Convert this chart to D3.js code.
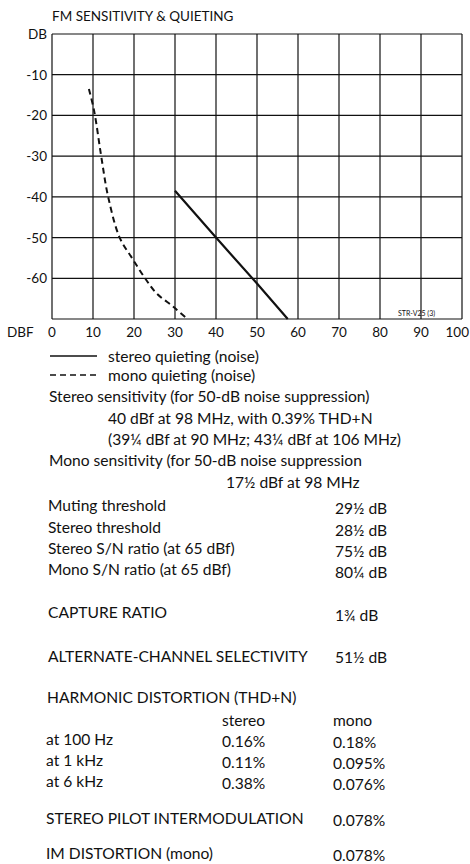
<!DOCTYPE html>
<html>
<head>
<meta charset="utf-8">
<script src="https://cdn.jsdelivr.net/npm/d3@7/dist/d3.min.js"></script>
<style>
  html, body { margin: 0; padding: 0; background: #fff; }
  svg { display: block; }
  text { font-family: Lato, "Open Sans", sans-serif; fill: #111; }
</style>
</head>
<body>
<svg id="chart" width="470" height="864"></svg>
<script>
// ---------- data ----------
const chartTitle = "FM SENSITIVITY & QUIETING";
const xTickValues = [0, 10, 20, 30, 40, 50, 60, 70, 80, 90, 100];
const yTickValues = [0, -10, -20, -30, -40, -50, -60];
const yTickLabels = ["DB", "-10", "-20", "-30", "-40", "-50", "-60"];
const xAxisLabel = "DBF";
const chartNote = "STR-V25 (3)";

// stereo quieting (noise): dBf input vs dB noise
const stereoX = [30, 40, 50, 57.5];
const stereoY = [-38.5, -50, -61.3, -70];
// mono quieting (noise)
const monoX = [9, 10.3, 12, 13.7, 16.5, 19.5, 22.7, 25.5, 29.6, 33];
const monoY = [-13.5, -19, -30, -40, -50, -55, -60, -63.7, -67, -70];

const legendLabels = ["stereo quieting (noise)", "mono quieting (noise)"];

const specLines = [
  "Stereo sensitivity (for 50-dB noise suppression)",
  "40 dBf at 98 MHz, with 0.39% THD+N",
  "(39\u00BC dBf at 90 MHz; 43\u00BC dBf at 106 MHz)",
  "Mono sensitivity (for 50-dB noise suppression",
  "17\u00BD dBf at 98 MHz"
];
const specNames = [
  "Muting threshold", "Stereo threshold", "Stereo S/N ratio (at 65 dBf)",
  "Mono S/N ratio (at 65 dBf)", "CAPTURE RATIO", "ALTERNATE-CHANNEL SELECTIVITY"
];
const specValues = ["29\u00BD dB", "28\u00BD dB", "75\u00BD dB", "80\u00BC dB", "1\u00BE dB", "51\u00BD dB"];

const thdTitle = "HARMONIC DISTORTION (THD+N)";
const thdColumns = ["stereo", "mono"];
const thdRows = ["at 100 Hz", "at 1 kHz", "at 6 kHz"];
const thdStereo = ["0.16%", "0.11%", "0.38%"];
const thdMono = ["0.18%", "0.095%", "0.076%"];

const tailNames = ["STEREO PILOT INTERMODULATION", "IM DISTORTION (mono)"];
const tailValues = ["0.078%", "0.078%"];

// ---------- layout ----------
const svg = d3.select("#chart");
const fs = 15.6;
const axisFs = 13.5;
const x = d3.scaleLinear().domain([0, 100]).range([52, 462]);
const y = d3.scaleLinear().domain([-70, 0]).range([319, 34]);

// title
svg.append("text").attr("x", 52).attr("y", 21).attr("font-size", 13.5).text(chartTitle);

// grid
const g = svg.append("g");
g.selectAll("line.v").data(xTickValues).join("line")
  .attr("x1", d => x(d)).attr("x2", d => x(d))
  .attr("y1", y(0)).attr("y2", y(-70))
  .attr("stroke", "#111").attr("stroke-width", 1.2);
g.selectAll("line.h").data(yTickValues.concat([-70])).join("line")
  .attr("x1", x(0)).attr("x2", x(100))
  .attr("y1", d => y(d)).attr("y2", d => y(d))
  .attr("stroke", "#111").attr("stroke-width", 1.2);

// y labels
svg.selectAll("text.yl").data(yTickValues).join("text")
  .attr("x", 47).attr("y", d => y(d) + 5)
  .attr("text-anchor", "end").attr("font-size", axisFs)
  .text((d, i) => yTickLabels[i]);

// x labels
svg.selectAll("text.xl").data(xTickValues).join("text")
  .attr("x", (d, i) => i === xTickValues.length - 1 ? 469 : x(d)).attr("y", 337)
  .attr("text-anchor", (d, i) => i === xTickValues.length - 1 ? "end" : "middle")
  .attr("font-size", axisFs)
  .text(d => d);
svg.append("text").attr("x", 7).attr("y", 337).attr("font-size", axisFs).text(xAxisLabel);

svg.append("text").attr("x", 398).attr("y", 316).attr("font-size", 7).text(chartNote);

// curves
const line = d3.line().x(d => x(d[0])).y(d => y(d[1]));
const lineCurve = d3.line().x(d => x(d[0])).y(d => y(d[1])).curve(d3.curveCatmullRom.alpha(0.5));
svg.append("path").datum(stereoX.map((v, i) => [v, stereoY[i]]))
  .attr("d", line).attr("fill", "none").attr("stroke", "#111").attr("stroke-width", 2.2);
svg.append("path").datum(monoX.map((v, i) => [v, monoY[i]]))
  .attr("d", lineCurve).attr("fill", "none").attr("stroke", "#111")
  .attr("stroke-width", 2).attr("stroke-dasharray", "6,4");

// legend
svg.append("line").attr("x1", 50).attr("x2", 97).attr("y1", 356).attr("y2", 356)
  .attr("stroke", "#111").attr("stroke-width", 1.5);
svg.append("line").attr("x1", 50).attr("x2", 97).attr("y1", 375).attr("y2", 375)
  .attr("stroke", "#111").attr("stroke-width", 1.5).attr("stroke-dasharray", "6,4");
svg.append("text").attr("x", 108).attr("y", 362).attr("font-size", fs).text(legendLabels[0]);
svg.append("text").attr("x", 108).attr("y", 381).attr("font-size", fs).text(legendLabels[1]);

// spec text
const specX = [49, 108, 108, 49, 226];
const specY = [402, 424, 445, 466, 488];
svg.selectAll("text.spec").data(specLines).join("text")
  .attr("x", (d, i) => specX[i]).attr("y", (d, i) => specY[i])
  .attr("font-size", fs).text(d => d);

const nameY = [511, 533, 554, 575, 618, 662];
const valY = [514, 536, 557, 578, 621, 663];
svg.selectAll("text.sn").data(specNames).join("text")
  .attr("x", 48).attr("y", (d, i) => nameY[i]).attr("font-size", fs).text(d => d);
svg.selectAll("text.sv").data(specValues).join("text")
  .attr("x", 335).attr("y", (d, i) => valY[i]).attr("font-size", fs).text(d => d);

svg.append("text").attr("x", 47).attr("y", 703).attr("font-size", fs).text(thdTitle);
svg.append("text").attr("x", 222).attr("y", 726).attr("font-size", fs).text(thdColumns[0]);
svg.append("text").attr("x", 333).attr("y", 726).attr("font-size", fs).text(thdColumns[1]);
const thdY = [745, 766, 787];
svg.selectAll("text.tr").data(thdRows).join("text")
  .attr("x", 46).attr("y", (d, i) => thdY[i]).attr("font-size", fs).text(d => d);
svg.selectAll("text.ts").data(thdStereo).join("text")
  .attr("x", 222).attr("y", (d, i) => thdY[i] + 2).attr("font-size", fs).text(d => d);
svg.selectAll("text.tm").data(thdMono).join("text")
  .attr("x", 333).attr("y", (d, i) => thdY[i] + 3).attr("font-size", fs).text(d => d);

const tailY = [824, 859];
svg.selectAll("text.tn").data(tailNames).join("text")
  .attr("x", 46).attr("y", (d, i) => tailY[i]).attr("font-size", fs).text(d => d);
svg.selectAll("text.tv").data(tailValues).join("text")
  .attr("x", 333).attr("y", (d, i) => tailY[i] + 2).attr("font-size", fs).text(d => d);
</script>
</body>
</html>
